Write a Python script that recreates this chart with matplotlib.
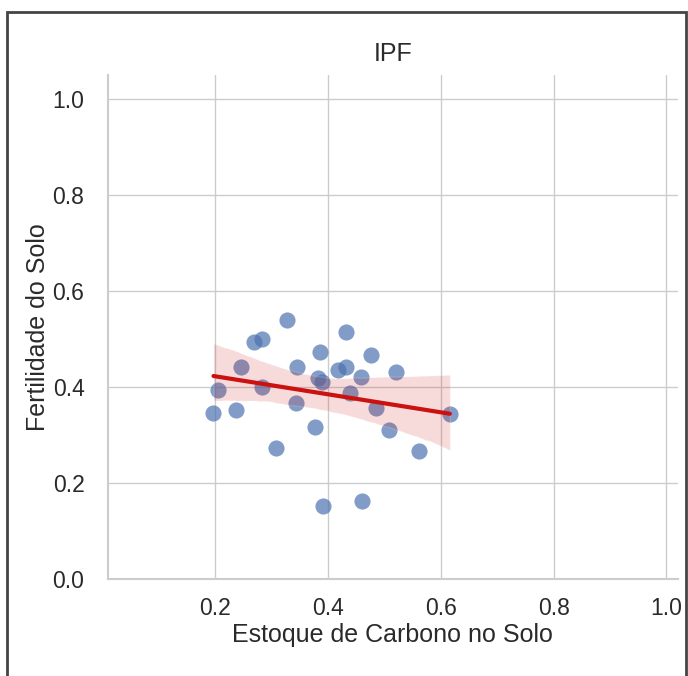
import numpy as np
import matplotlib
matplotlib.use("Agg")
import matplotlib.pyplot as plt
import seaborn as sns
from matplotlib.patches import Rectangle

# estoque de carbono (x) e fertilidade (y)
carbono = [0.328, 0.268, 0.283, 0.432, 0.385, 0.476, 0.246, 0.345, 0.418, 0.432,
           0.520, 0.458, 0.383, 0.389, 0.205, 0.283, 0.439, 0.197, 0.237, 0.343,
           0.485, 0.616, 0.377, 0.508, 0.308, 0.562, 0.391, 0.461]
fertilidade = [0.540, 0.493, 0.501, 0.514, 0.473, 0.467, 0.441, 0.441, 0.436, 0.441,
               0.431, 0.420, 0.419, 0.410, 0.394, 0.399, 0.387, 0.346, 0.353, 0.367,
               0.356, 0.344, 0.317, 0.310, 0.273, 0.266, 0.153, 0.163]
titulo = "IPF"
xticks = [0.2, 0.4, 0.6, 0.8, 1.0]
yticks = [0.0, 0.2, 0.4, 0.6, 0.8, 1.0]

sns.set_theme(style="whitegrid")
plt.rcParams['font.family'] = ['Liberation Sans', 'DejaVu Sans']

fig = plt.figure(figsize=(6.88, 6.76), dpi=100)
ax = fig.add_axes([0.157, 0.1435, 0.828, 0.7455])

sns.regplot(x=np.array(carbono), y=np.array(fertilidade), ax=ax, seed=3,
            scatter_kws=dict(s=135, alpha=0.7, color="#4c72b0", linewidths=0),
            line_kws=dict(color="#cc1111", lw=3))

ax.set_xlim(0.01, 1.02)
ax.set_ylim(0.0, 1.05)
ax.set_xticks(xticks)
ax.set_yticks(yticks)
ax.tick_params(labelsize=16.5, colors="#2a2a2a")
ax.tick_params(axis="y", pad=11)
ax.tick_params(axis="x", pad=7)
ax.set_xlabel("Estoque de Carbono no Solo", fontsize=18, color="#2a2a2a", labelpad=2)
ax.set_ylabel("Fertilidade do Solo", fontsize=18, color="#2a2a2a", labelpad=2)
ax.set_title(titulo, fontsize=18, color="#2a2a2a", pad=10)
for s in ["top", "right"]:
    ax.spines[s].set_visible(False)
for s in ["left", "bottom"]:
    ax.spines[s].set_color("#cccccc")
    ax.spines[s].set_linewidth(1.5)

# moldura escura da captura
fig.add_artist(Rectangle((7/688, -0.1), 679/688, 1.1 - 12/676,
                         transform=fig.transFigure, fill=False,
                         edgecolor="#444444", lw=2))

fig.savefig("out.png", dpi=100)
